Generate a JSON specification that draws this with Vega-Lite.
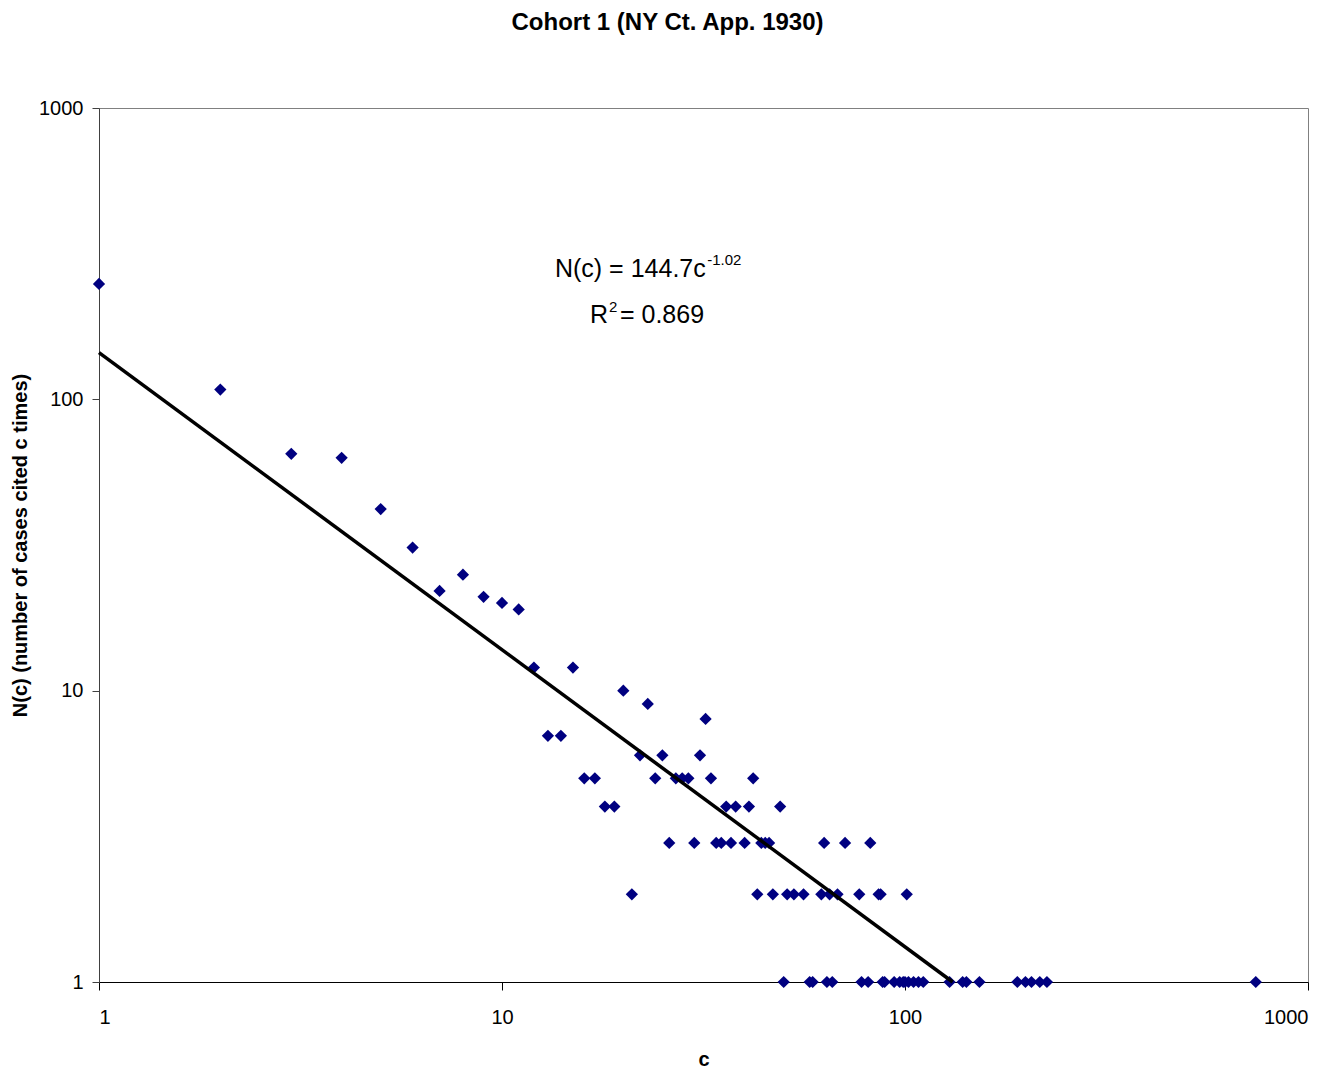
{
  "$schema": "https://vega.github.io/schema/vega-lite/v6.json",
  "autosize": {"type": "none"},
  "padding": {"left": 99, "top": 108, "right": 35, "bottom": 96},
  "width": 1209,
  "height": 874,
  "background": "white",
  "config": {
    "font": "Liberation Sans",
    "view": {"stroke": "#808080", "strokeWidth": 1},
    "axis": {"grid": false, "labelFont": "Liberation Sans", "titleFont": "Liberation Sans", "labelColor": "black", "titleColor": "black"}
  },
  "title": {
    "text": "Cohort 1 (NY Ct. App. 1930)",
    "font": "Liberation Sans",
    "fontSize": 24,
    "fontWeight": "bold",
    "color": "black",
    "anchor": "middle",
    "frame": "group",
    "dx": -36,
    "offset": 63
  },
  "datasets": {
    "points": [
      {"c": 1, "N": 249}, {"c": 2, "N": 108}, {"c": 3, "N": 65}, {"c": 4, "N": 63}, {"c": 5, "N": 42},
      {"c": 6, "N": 31}, {"c": 7, "N": 22}, {"c": 8, "N": 25}, {"c": 9, "N": 21}, {"c": 10, "N": 20},
      {"c": 11, "N": 19}, {"c": 12, "N": 12}, {"c": 13, "N": 7}, {"c": 14, "N": 7}, {"c": 15, "N": 12},
      {"c": 16, "N": 5}, {"c": 17, "N": 5}, {"c": 18, "N": 4}, {"c": 19, "N": 4}, {"c": 20, "N": 10},
      {"c": 21, "N": 2}, {"c": 22, "N": 6}, {"c": 23, "N": 9}, {"c": 24, "N": 5}, {"c": 25, "N": 6},
      {"c": 26, "N": 3}, {"c": 27, "N": 5}, {"c": 28, "N": 5}, {"c": 29, "N": 5}, {"c": 30, "N": 3},
      {"c": 31, "N": 6}, {"c": 32, "N": 8}, {"c": 33, "N": 5}, {"c": 34, "N": 3}, {"c": 35, "N": 3},
      {"c": 36, "N": 4}, {"c": 37, "N": 3}, {"c": 38, "N": 4}, {"c": 40, "N": 3}, {"c": 41, "N": 4},
      {"c": 42, "N": 5}, {"c": 43, "N": 2}, {"c": 44, "N": 3}, {"c": 45, "N": 3}, {"c": 46, "N": 3},
      {"c": 47, "N": 2}, {"c": 49, "N": 4}, {"c": 50, "N": 1}, {"c": 51, "N": 2}, {"c": 53, "N": 2},
      {"c": 56, "N": 2}, {"c": 58, "N": 1}, {"c": 59, "N": 1}, {"c": 62, "N": 2}, {"c": 63, "N": 3},
      {"c": 64, "N": 1}, {"c": 65, "N": 2}, {"c": 66, "N": 1}, {"c": 68, "N": 2}, {"c": 71, "N": 3},
      {"c": 77, "N": 2}, {"c": 78, "N": 1}, {"c": 81, "N": 1}, {"c": 82, "N": 3}, {"c": 86, "N": 2},
      {"c": 87, "N": 2}, {"c": 88, "N": 1}, {"c": 89, "N": 1}, {"c": 94, "N": 1}, {"c": 97, "N": 1},
      {"c": 99, "N": 1}, {"c": 100, "N": 1}, {"c": 101, "N": 2}, {"c": 102, "N": 1}, {"c": 105, "N": 1},
      {"c": 108, "N": 1}, {"c": 111, "N": 1}, {"c": 129, "N": 1}, {"c": 139, "N": 1}, {"c": 142, "N": 1},
      {"c": 153, "N": 1}, {"c": 190, "N": 1}, {"c": 199, "N": 1}, {"c": 206, "N": 1}, {"c": 216, "N": 1},
      {"c": 225, "N": 1}, {"c": 742, "N": 1}
    ],
    "fit": [
      {"c": 1, "N": 144.7},
      {"c": 131.3, "N": 1}
    ],
    "labelsRight": [
      {"c": 32.03, "N": 263.2, "text": "N(c) = 144.7c", "size": 25},
      {"c": 18.33, "N": 182.9, "text": "R", "size": 25}
    ],
    "labelsLeft": [
      {"c": 32.3, "N": 290, "text": "-1.02", "size": 15},
      {"c": 18.43, "N": 199, "text": "2", "size": 15},
      {"c": 19.62, "N": 182.9, "text": "= 0.869", "size": 25}
    ]
  },
  "layer": [
    {
      "data": {"name": "points"},
      "mark": {"type": "point", "shape": "diamond", "filled": true, "size": 150, "color": "#000080", "opacity": 1},
      "encoding": {
        "x": {
          "field": "c", "type": "quantitative",
          "scale": {"type": "log", "domain": [1, 1000], "nice": false},
          "axis": {
            "title": "c", "values": [1, 10, 100, 1000], "format": "d",
            "labelFontSize": 20, "labelPadding": 17, "tickSize": 8, "tickColor": "#000",
            "domainColor": "#000", "titleFontSize": 20, "titleFontWeight": "bold", "titlePadding": 22
          }
        },
        "y": {
          "field": "N", "type": "quantitative",
          "scale": {"type": "log", "domain": [1, 1000], "nice": false},
          "axis": {
            "title": "N(c) (number of cases cited c times)", "values": [1, 10, 100, 1000], "format": "d",
            "labelFontSize": 20, "labelPadding": 9, "tickSize": 7, "tickColor": "#404040",
            "domainColor": "#404040", "titleFontSize": 20, "titleFontWeight": "bold", "titlePadding": 8
          }
        }
      }
    },
    {
      "data": {"name": "fit"},
      "mark": {"type": "line", "color": "black", "strokeWidth": 3.5},
      "encoding": {
        "x": {"field": "c", "type": "quantitative"},
        "y": {"field": "N", "type": "quantitative"}
      }
    },
    {
      "data": {"name": "labelsRight"},
      "mark": {"type": "text", "baseline": "alphabetic", "align": "right", "color": "black", "font": "Liberation Sans"},
      "encoding": {
        "x": {"field": "c", "type": "quantitative"},
        "y": {"field": "N", "type": "quantitative"},
        "text": {"field": "text"},
        "size": {"field": "size", "type": "quantitative", "scale": null}
      }
    },
    {
      "data": {"name": "labelsLeft"},
      "mark": {"type": "text", "baseline": "alphabetic", "align": "left", "color": "black", "font": "Liberation Sans"},
      "encoding": {
        "x": {"field": "c", "type": "quantitative"},
        "y": {"field": "N", "type": "quantitative"},
        "text": {"field": "text"},
        "size": {"field": "size", "type": "quantitative", "scale": null}
      }
    }
  ]
}
